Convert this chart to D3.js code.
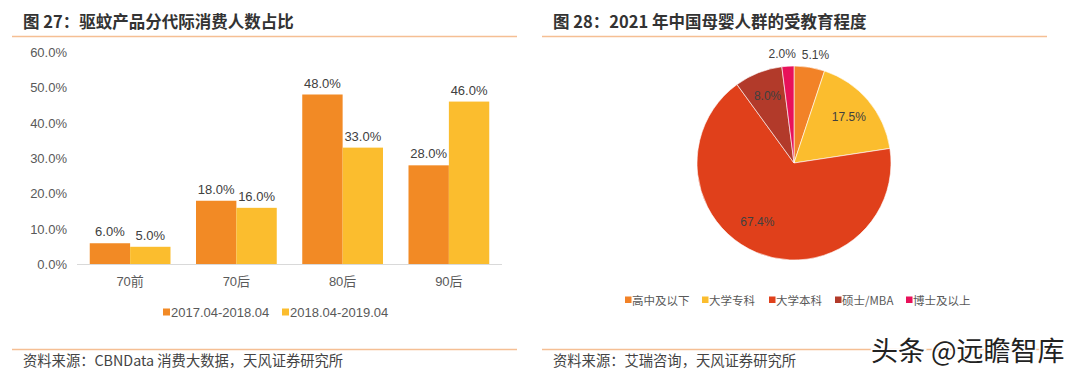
<!DOCTYPE html>
<html><head><meta charset="utf-8">
<script src="https://cdn.jsdelivr.net/npm/d3@7"></script>
<style>
html,body{margin:0;padding:0;background:#fff;}
svg{display:block;font-family:"Liberation Sans","Noto Sans CJK SC",Arial,sans-serif;}
.cjk{font-family:"Noto Sans CJK SC","Liberation Sans",sans-serif;}
</style></head>
<body>
<svg id="c" width="1080" height="380"></svg>
<script>
// ---- data ----
const barCategories = ["70前", "70后", "80后", "90后"];
const barSeriesNames = ["2017.04-2018.04", "2018.04-2019.04"];
const barSeries1 = [0.06, 0.18, 0.48, 0.28];
const barSeries2 = [0.05, 0.16, 0.33, 0.46];
const yTicks = [0, 0.1, 0.2, 0.3, 0.4, 0.5, 0.6];

const pieLabels = ["高中及以下", "大学专科", "大学本科", "硕士/MBA", "博士及以上"];
const pieValues = [5.1, 17.5, 67.4, 8.0, 2.0];

const titleLeft = "图 27：驱蚊产品分代际消费人数占比";
const titleRight = "图 28：2021 年中国母婴人群的受教育程度";
const sourceLeft = "资料来源：CBNData 消费大数据，天风证券研究所";
const sourceRight = "资料来源：艾瑞咨询，天风证券研究所";
const watermark = "头条 @远瞻智库";

// ---- styles ----
const barColors = ["#F28A25", "#FBBD2E"];
const pieColors = ["#F28227", "#FBBD2E", "#E0401B", "#B23A2A", "#E8115A"];
const lineColor = "#F5BF94";

const svg = d3.select("#c");

// headers & footers
function header(x0, x1, title) {
  svg.append("text").attr("class", "cjk").attr("x", x0 + 11).attr("y", 28)
    .attr("font-size", 16.5).attr("font-weight", "bold").attr("fill", "#333")
    .text(title);
  svg.append("line").attr("x1", x0).attr("x2", x1).attr("y1", 36.5).attr("y2", 36.5)
    .attr("stroke", lineColor).attr("stroke-width", 1.5);
}
function footer(x0, x1, src) {
  svg.append("line").attr("x1", x0).attr("x2", x1).attr("y1", 349.5).attr("y2", 349.5)
    .attr("stroke", lineColor).attr("stroke-width", 1.5);
  svg.append("text").attr("class", "cjk").attr("x", x0 + 11).attr("y", 366)
    .attr("font-size", 14.3).attr("fill", "#444").text(src);
}
header(12, 517, titleLeft);
header(542, 1047, titleRight);
footer(12, 517, sourceLeft);
footer(542, 1047, sourceRight);

// ---- bar chart ----
const y = d3.scaleLinear().domain([0, 0.6]).range([264.5, 52]);
const x0 = d3.scaleBand().domain(barCategories).range([77, 502]).paddingInner(0.24).paddingOuter(0.12);
const x1 = d3.scaleBand().domain([0, 1]).range([0, x0.bandwidth()]);

const yAxis = d3.axisLeft(y).tickValues(yTicks).tickFormat(d3.format(".1%")).tickSize(0).tickPadding(10);
const gy = svg.append("g").attr("transform", "translate(77,0)").call(yAxis);
gy.select(".domain").remove();
gy.selectAll("text").attr("font-size", 13).attr("fill", "#595959")
  .attr("font-family", "Liberation Sans, Arial, sans-serif");

const seriesData = [barSeries1, barSeries2];
seriesData.forEach((vals, si) => {
  const g = svg.append("g");
  g.selectAll("rect").data(vals).enter().append("rect")
    .attr("x", (d, i) => x0(barCategories[i]) + x1(si))
    .attr("width", x1.bandwidth())
    .attr("y", d => y(d))
    .attr("height", d => y(0) - y(d))
    .attr("fill", barColors[si]);
  g.selectAll("text").data(vals).enter().append("text")
    .attr("x", (d, i) => x0(barCategories[i]) + x1(si) + x1.bandwidth() / 2)
    .attr("y", d => y(d) - 7)
    .attr("text-anchor", "middle").attr("font-size", 13).attr("fill", "#404040")
    .text(d => d3.format(".1%")(d));
});

const xAxis = d3.axisBottom(x0).tickSize(0).tickPadding(12);
const gx = svg.append("g").attr("transform", `translate(0,${y(0)})`).call(xAxis);
gx.select(".domain").attr("stroke", "#D9D9D9").attr("d", "M77,0H502");
gx.selectAll("text").attr("font-size", 13).attr("fill", "#595959")
  .attr("font-family", "Liberation Sans, Noto Sans CJK SC, sans-serif");

// bar legend
const legX = [163, 282];
barSeriesNames.forEach((n, i) => {
  svg.append("rect").attr("x", legX[i]).attr("y", 308.5).attr("width", 7).attr("height", 7).attr("fill", barColors[i]);
  svg.append("text").attr("x", legX[i] + 8).attr("y", 317).attr("font-size", 13).attr("fill", "#595959").text(n);
});

// ---- pie ----
const cx = 794, cy = 163, R = 97;
const pie = d3.pie().sort(null).value(d => d);
const arcs = pie(pieValues);
const arc = d3.arc().innerRadius(0).outerRadius(R);
const gp = svg.append("g").attr("transform", `translate(${cx},${cy})`);
gp.selectAll("path").data(arcs).enter().append("path")
  .attr("d", arc).attr("fill", (d, i) => pieColors[i])
  .attr("stroke", "#fff").attr("stroke-width", 0.6);

const labelArc = d3.arc().innerRadius(R * 0.74).outerRadius(R * 0.74);
gp.selectAll("text.pl").data(arcs).enter().append("text")
  .attr("class", "pl")
  .attr("font-size", 12).attr("fill", "#404040").attr("text-anchor", "middle")
  .attr("x", d => {
    const a = (d.startAngle + d.endAngle) / 2;
    if (d.value < 6) return Math.sin(a) * (R + 12) + (Math.sin(a) < 0 ? -5 : 4);
    if (d.value > 50) return labelArc.centroid(d)[0] - 9;
    return labelArc.centroid(d)[0];
  })
  .attr("y", d => {
    const a = (d.startAngle + d.endAngle) / 2;
    if (d.value < 6) return -Math.cos(a) * (R + 12) + 4;
    if (d.value > 50) return labelArc.centroid(d)[1] - 3;
    return labelArc.centroid(d)[1] + 4;
  })
  .text(d => d.value.toFixed(1) + "%");

// pie legend
const pLegX = [625, 702, 769, 835, 906];
pieLabels.forEach((n, i) => {
  svg.append("rect").attr("x", pLegX[i]).attr("y", 296.5).attr("width", 6.5).attr("height", 6.5).attr("fill", pieColors[i]);
  svg.append("text").attr("class", "cjk").attr("x", pLegX[i] + 7).attr("y", 304.5).attr("font-size", 11.5).attr("fill", "#595959").text(n);
});

// watermark
svg.append("text").attr("class", "cjk").attr("x", 871).attr("y", 361)
  .attr("font-size", 27).attr("fill", "#222").attr("stroke", "#fff").attr("stroke-width", 3)
  .attr("paint-order", "stroke").text(watermark);
</script>
</body></html>
